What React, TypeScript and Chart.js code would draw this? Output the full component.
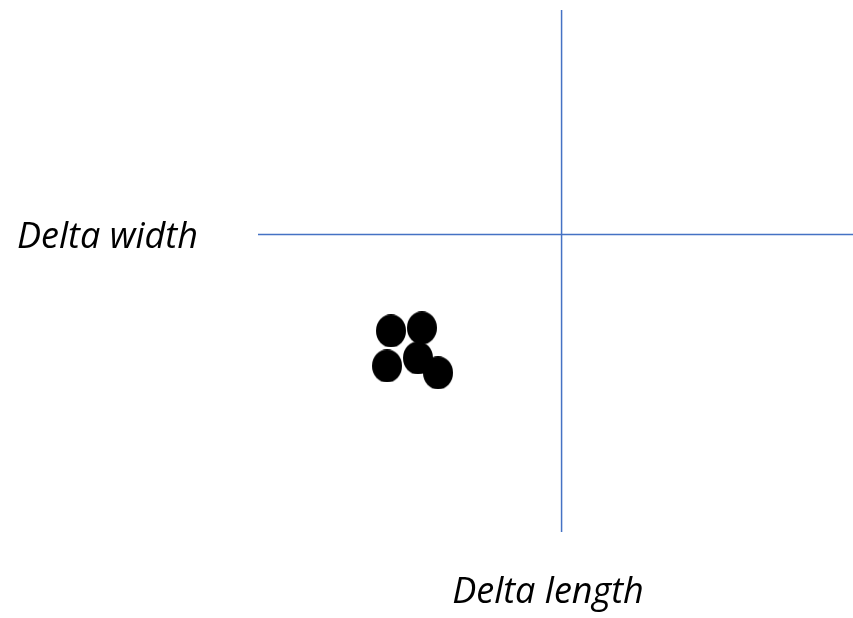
import React, { useEffect, useRef } from "react";
import { Chart, registerables } from "chart.js";

Chart.register(...registerables);

// Data (arbitrary units; origin = crossing of the two axes)
const dotX: number[] = [-0.562, -0.46, -0.575, -0.473, -0.407];
const dotY: number[] = [-0.324, -0.314, -0.442, -0.415, -0.465];

const xMin = -1.0;
const xMax = 0.96;
const yMin = -1.0;
const yMax = 0.754;

const xAxisLabel = "Delta length";
const yAxisLabel = "Delta width";

const lineColor = "#4472C4";

function makeEllipse(w: number, h: number): HTMLCanvasElement {
  const c = document.createElement("canvas");
  c.width = w;
  c.height = h;
  const ctx = c.getContext("2d")!;
  ctx.fillStyle = "#000000";
  ctx.beginPath();
  ctx.ellipse(w / 2, h / 2, w / 2, h / 2, 0, 0, Math.PI * 2);
  ctx.fill();
  return c;
}

const labelPlugin = {
  id: "quadLabels",
  afterDraw(chart: any) {
    const ctx = chart.ctx;
    ctx.save();
    ctx.fillStyle = "#000000";
    ctx.font = "italic 36px 'Open Sans'";
    ctx.textBaseline = "alphabetic";
    ctx.textAlign = "left";
    ctx.fillText(yAxisLabel, 17, 248);
    ctx.textAlign = "center";
    ctx.fillText(xAxisLabel, 548, 603);
    ctx.restore();
  },
};

export default function App() {
  const ref = useRef<HTMLCanvasElement | null>(null);
  useEffect(() => {
    document.body.style.margin = "0";
    const ellipse = makeEllipse(30, 33);
    const chart = new Chart(ref.current!, {
      type: "scatter",
      data: {
        datasets: [
          {
            type: "line",
            data: [
              { x: 0, y: yMin },
              { x: 0, y: yMax },
            ],
            borderColor: lineColor,
            borderWidth: 1.5,
            pointRadius: 0,
            pointHoverRadius: 0,
            showLine: true,
            fill: false,
          } as any,
          {
            type: "line",
            data: [
              { x: xMin, y: 0 },
              { x: xMax, y: 0 },
            ],
            borderColor: lineColor,
            borderWidth: 1.5,
            pointRadius: 0,
            pointHoverRadius: 0,
            showLine: true,
            fill: false,
          } as any,
          {
            type: "scatter",
            data: dotX.map((x, i) => ({ x, y: dotY[i] })),
            pointStyle: ellipse as any,
            backgroundColor: "#000000",
            borderColor: "#000000",
            clip: false as any,
          },
        ],
      },
      options: {
        animation: false,
        responsive: true,
        maintainAspectRatio: false,
        layout: { autoPadding: false, padding: { left: 258, top: 10, right: 0, bottom: 86 } } as any,
        plugins: {
          legend: { display: false },
          tooltip: { enabled: false },
        },
        scales: {
          x: { type: "linear", display: false, min: xMin, max: xMax },
          y: { type: "linear", display: false, min: yMin, max: yMax },
        },
      },
      plugins: [labelPlugin],
    });
    return () => chart.destroy();
  }, []);
  return (
    <div style={{ position: "fixed", left: 0, top: 0, width: 853, height: 618, background: "#ffffff" }}>
      <canvas ref={ref} />
    </div>
  );
}
